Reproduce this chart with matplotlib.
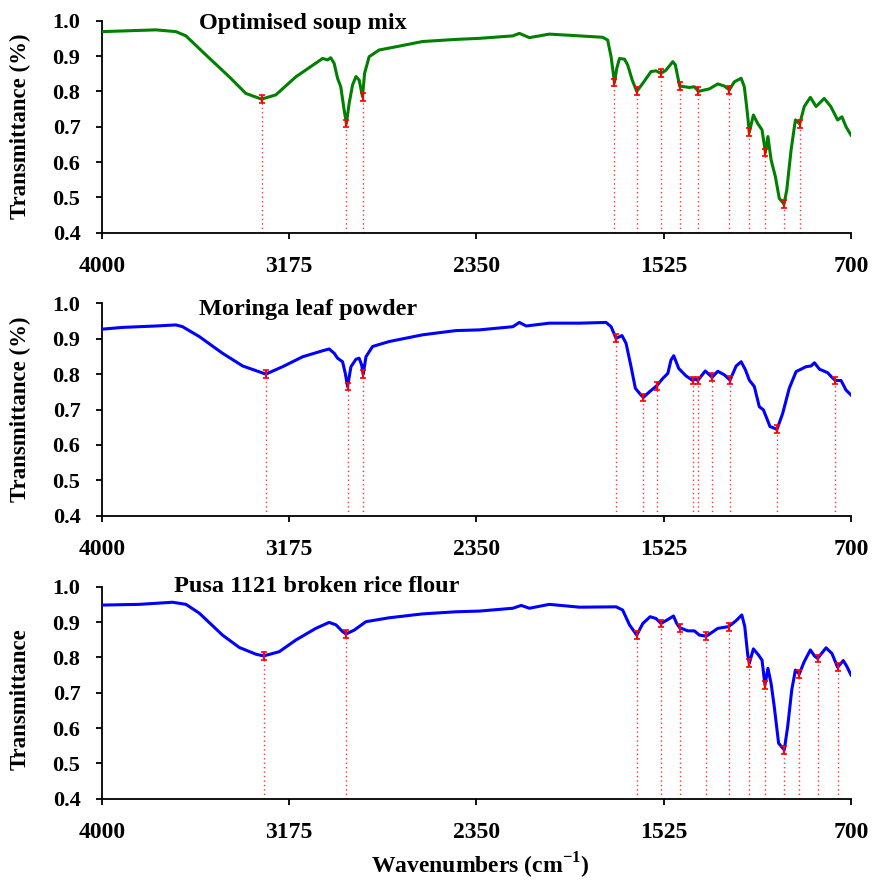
import matplotlib
matplotlib.use("Agg")
import matplotlib.pyplot as plt
import numpy as np

plt.rcParams['font.family'] = ['Liberation Serif', 'DejaVu Serif']
plt.rcParams['font.weight'] = 'bold'
plt.rcParams['mathtext.fontset'] = 'custom'
plt.rcParams['mathtext.rm'] = 'Liberation Serif:bold'
plt.rcParams['mathtext.bf'] = 'Liberation Serif:bold'

# ---------------- data ----------------
titles = ["Optimised soup mix", "Moringa leaf powder", "Pusa 1121 broken rice flour"]
ylabels = ["Transmittance (%)", "Transmittance (%)", "Transmittance"]
x_ticks = [4000, 3175, 2350, 1525, 700]
y_ticks = [0.4, 0.5, 0.6, 0.7, 0.8, 0.9, 1.0]

wn1 = [4000, 3762, 3674, 3630, 3542, 3439, 3366, 3297, 3234, 3146, 3028, 3006, 2992, 2977,
       2962, 2948, 2933, 2923, 2911, 2896, 2881, 2867, 2852, 2843, 2823, 2779, 2690, 2588,
       2441, 2337, 2190, 2161, 2117, 2029, 1896, 1794, 1772, 1757, 1742, 1732, 1720, 1698,
       1684, 1664, 1644, 1617, 1581, 1559, 1537, 1515, 1485, 1474, 1455, 1434, 1412, 1390,
       1372, 1324, 1287, 1258, 1236, 1214, 1184, 1170, 1158, 1148, 1130, 1111, 1092, 1077,
       1066, 1052, 1033, 1016, 995, 983, 964, 945, 926, 906, 879, 854, 818, 789, 759, 740,
       722, 700]
t1 = [0.969, 0.974, 0.969, 0.957, 0.903, 0.841, 0.794, 0.778, 0.790, 0.841, 0.893, 0.889,
      0.895, 0.879, 0.837, 0.813, 0.747, 0.709, 0.766, 0.818, 0.842, 0.832, 0.785, 0.851,
      0.898, 0.917, 0.928, 0.941, 0.947, 0.950, 0.957, 0.964, 0.952, 0.962, 0.957, 0.953,
      0.945, 0.898, 0.825, 0.865, 0.893, 0.891, 0.875, 0.832, 0.800, 0.823, 0.856, 0.858,
      0.851, 0.860, 0.884, 0.875, 0.815, 0.813, 0.811, 0.813, 0.800, 0.807, 0.821, 0.815,
      0.804, 0.827, 0.837, 0.813, 0.747, 0.684, 0.733, 0.709, 0.691, 0.627, 0.672, 0.606,
      0.558, 0.497, 0.481, 0.521, 0.634, 0.719, 0.708, 0.757, 0.783, 0.757, 0.780, 0.757,
      0.719, 0.728, 0.700, 0.676]
pk_wn1 = [3297, 2923, 2852, 1742, 1644, 1537, 1455, 1372, 1236, 1148, 1077, 995, 926]
pk_t1 = [0.778, 0.709, 0.785, 0.825, 0.800, 0.851, 0.815, 0.800, 0.804, 0.684, 0.627, 0.481, 0.708]

wn2 = [4000, 3909, 3762, 3674, 3645, 3571, 3469, 3380, 3278, 3204, 3116, 3028, 2999, 2977,
       2962, 2940, 2928, 2918, 2903, 2881, 2867, 2856, 2849, 2837, 2808, 2735, 2588, 2441,
       2337, 2190, 2161, 2131, 2029, 1896, 1779, 1757, 1735, 1709, 1691, 1669, 1650, 1632,
       1615, 1588, 1556, 1529, 1507, 1493, 1481, 1459, 1427, 1397, 1386, 1375, 1342, 1312,
       1287, 1258, 1233, 1206, 1184, 1165, 1148, 1126, 1104, 1086, 1071, 1057, 1026, 1001,
       972, 942, 920, 898, 876, 861, 839, 803, 784, 769, 744, 722, 700]
t2 = [0.927, 0.932, 0.936, 0.939, 0.934, 0.906, 0.859, 0.823, 0.800, 0.821, 0.849, 0.866,
      0.871, 0.859, 0.845, 0.835, 0.802, 0.765, 0.821, 0.842, 0.845, 0.826, 0.800, 0.849,
      0.878, 0.892, 0.911, 0.923, 0.925, 0.934, 0.946, 0.936, 0.944, 0.944, 0.946, 0.934,
      0.901, 0.909, 0.887, 0.821, 0.760, 0.746, 0.734, 0.750, 0.767, 0.788, 0.802, 0.840,
      0.852, 0.816, 0.795, 0.782, 0.786, 0.782, 0.809, 0.791, 0.808, 0.798, 0.783, 0.823,
      0.835, 0.812, 0.783, 0.765, 0.708, 0.699, 0.675, 0.652, 0.644, 0.689, 0.760, 0.807,
      0.814, 0.821, 0.823, 0.832, 0.814, 0.804, 0.791, 0.782, 0.782, 0.755, 0.741]
pk_wn2 = [3278, 2918, 2849, 1735, 1615, 1556, 1397, 1375, 1312, 1233, 1026, 769]
pk_t2 = [0.800, 0.765, 0.800, 0.901, 0.734, 0.767, 0.782, 0.782, 0.791, 0.783, 0.644, 0.782]

wn3 = [4000, 3836, 3762, 3689, 3630, 3571, 3469, 3395, 3322, 3288, 3219, 3146, 3058, 2999,
       2969, 2940, 2925, 2889, 2837, 2735, 2588, 2441, 2337, 2190, 2153, 2117, 2029, 1896,
       1735, 1706, 1676, 1644, 1617, 1585, 1559, 1537, 1515, 1482, 1468, 1455, 1419, 1390,
       1368, 1337, 1287, 1239, 1206, 1181, 1168, 1155, 1148, 1130, 1108, 1092, 1079, 1066,
       1052, 1038, 1019, 994, 979, 961, 945, 928, 906, 879, 861, 847, 810, 784, 759, 734,
       718, 700]
t3 = [0.948, 0.950, 0.953, 0.956, 0.950, 0.925, 0.863, 0.828, 0.809, 0.804, 0.816, 0.849,
      0.882, 0.899, 0.892, 0.873, 0.866, 0.877, 0.901, 0.912, 0.923, 0.929, 0.931, 0.939,
      0.947, 0.939, 0.950, 0.942, 0.943, 0.934, 0.892, 0.863, 0.896, 0.915, 0.910, 0.896,
      0.904, 0.917, 0.896, 0.884, 0.875, 0.875, 0.863, 0.860, 0.882, 0.887, 0.904, 0.920,
      0.887, 0.807, 0.783, 0.824, 0.807, 0.792, 0.722, 0.769, 0.726, 0.660, 0.557, 0.538,
      0.604, 0.708, 0.764, 0.753, 0.788, 0.821, 0.804, 0.797, 0.827, 0.811, 0.772, 0.791,
      0.774, 0.750]
pk_wn3 = [3288, 2925, 1644, 1537, 1455, 1337, 1239, 1148, 1079, 994, 928, 847, 759]
pk_t3 = [0.804, 0.866, 0.863, 0.896, 0.884, 0.860, 0.887, 0.783, 0.722, 0.538, 0.753, 0.797, 0.772]

series = [(wn1, t1, pk_wn1, pk_t1), (wn2, t2, pk_wn2, pk_t2), (wn3, t3, pk_wn3, pk_t3)]
colors = ["#008000", "#0000FF", "#0000FF"]

# ---------------- layout ----------------
fig = plt.figure(figsize=(8.73, 8.80), dpi=100)
ax_rects = [[0.1168, 0.7356, 0.858, 0.2409],
            [0.1168, 0.4140, 0.858, 0.2413],
            [0.1168, 0.0924, 0.858, 0.2409]]
title_pos = [(0.268, 0.985), (0.275, 0.970), (0.286, 1.000)]
ylabel_y = [0.5, 0.5, 0.47]

for i, (rect, (wn, t, pw, pt)) in enumerate(zip(ax_rects, series)):
    ax = fig.add_axes(rect)
    ax.plot(wn, t, color=colors[i], lw=2.2, zorder=3, solid_joinstyle='round')
    ax.vlines(pw, 0.4, pt, colors='red', linestyles=(0, (1, 2.2)), lw=1.0, alpha=0.8, zorder=2)
    ax.errorbar(pw, pt, yerr=0.011, fmt='none', ecolor='red', elinewidth=1.6,
                capsize=2.0, capthick=1.2, zorder=4)
    ax.set_xlim(4000, 700)
    ax.set_ylim(0.4, 1.0)
    ax.set_xticks(x_ticks)
    ax.set_xticklabels([str(v) for v in x_ticks], fontsize=17, fontweight='bold')
    ax.set_yticks(y_ticks)
    ax.set_yticklabels([f"{v:.1f}" for v in y_ticks], fontsize=16, fontweight='bold')
    ax.spines['top'].set_visible(False)
    ax.spines['right'].set_visible(False)
    for s in ('left', 'bottom'):
        ax.spines[s].set_linewidth(1.3)
    ax.tick_params(axis='both', direction='out', length=4.5, width=1.3, colors='black')
    ax.tick_params(axis='x', pad=12)
    ax.tick_params(axis='y', pad=11)
    ax.set_ylabel(ylabels[i], fontsize=16.5, fontweight='bold')
    ax.yaxis.set_label_coords(-0.095, ylabel_y[i])
    ax.text(title_pos[i][0], title_pos[i][1], titles[i], transform=ax.transAxes,
            ha='center', va='center', fontsize=17.5, fontweight='bold')
    if i == 2:
        ax.set_xlabel(r"Wavenumbers (cm$^{\mathbf{-1}}$)", fontsize=17, fontweight='bold')
        ax.xaxis.set_label_coords(0.505, -0.245)

fig.savefig("out.png", dpi=100)
